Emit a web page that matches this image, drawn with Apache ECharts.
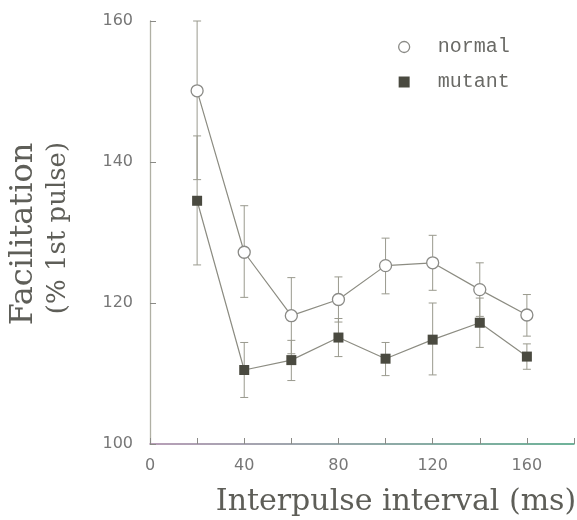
<!DOCTYPE html>
<html>
<head>
<meta charset="utf-8">
<script src="https://cdn.jsdelivr.net/npm/echarts@6/dist/echarts.min.js"></script>
<style>
  html, body { margin: 0; padding: 0; background: #fff; }
  #chart { width: 577px; height: 520px; }
</style>
</head>
<body>
<div id="chart"></div>
<script>
const intervals = [20, 40, 60, 80, 100, 120, 140, 160];
const normalMean = [150.1, 127.2, 118.2, 120.5, 125.3, 125.7, 121.9, 118.3];
const normalLow = [137.5, 120.8, 112.8, 117.3, 121.3, 121.8, 118.1, 115.3];
const normalHigh = [160, 133.8, 123.6, 123.7, 129.2, 129.6, 125.7, 121.2];
const mutantMean = [134.5, 110.5, 111.9, 115.1, 112.1, 114.8, 117.2, 112.4];
const mutantLow = [125.4, 106.6, 109.0, 112.4, 109.7, 109.8, 113.7, 110.6];
const mutantHigh = [143.7, 114.4, 114.7, 117.8, 114.4, 120.0, 120.7, 114.2];
const xTicks = [0, 40, 80, 120, 160];

const chart = echarts.init(document.getElementById("chart"));

const lineColor = "#8c8c82";
const barColor = "#9a9a8e";

function pairs(means) {
  return intervals.map((x, i) => [x, means[i]]);
}

function errorData(lows, highs) {
  return intervals.map((x, i) => [x, lows[i], highs[i]]);
}

function renderError(params, api) {
  const x = api.value(0);
  const lo = api.coord([x, api.value(1)]);
  const hi = api.coord([x, api.value(2)]);
  const w = 4;
  const style = { stroke: barColor, lineWidth: 1 };
  return {
    type: "group",
    children: [
      { type: "line", shape: { x1: lo[0], y1: lo[1], x2: hi[0], y2: hi[1] }, style },
      { type: "line", shape: { x1: lo[0] - w, y1: lo[1], x2: lo[0] + w, y2: lo[1] }, style },
      { type: "line", shape: { x1: hi[0] - w, y1: hi[1], x2: hi[0] + w, y2: hi[1] }, style },
    ],
  };
}

chart.setOption({
  animation: false,
  grid: { left: 150, right: 0, top: 21, bottom: 76 },
  legend: {
    orient: "vertical",
    left: 393,
    top: 32,
    itemGap: 15,
    itemWidth: 11,
    itemHeight: 11,
    textStyle: {
      fontFamily: "Liberation Mono",
      fontSize: 20,
      lineHeight: 20,
      color: "#6a6a66",
      padding: [0, 0, 0, 23],
    },
    data: [
      { name: "normal", icon: "circle", itemStyle: { color: "#fff", borderColor: "#8a8a86", borderWidth: 1.3 } },
      { name: "mutant", icon: "rect", itemStyle: { color: "#4a4a40" } },
    ],
  },
  xAxis: {
    type: "value",
    min: 0,
    max: 180,
    interval: 20,
    axisLine: {
      lineStyle: {
        width: 1.5,
        color: new echarts.graphic.LinearGradient(0, 0, 1, 0, [
          { offset: 0, color: "#a07fa0" },
          { offset: 1, color: "#3f9a78" },
        ]),
      },
    },
    axisTick: { inside: true, length: 6, lineStyle: { color: "#8a8a86" } },
    axisLabel: {
      margin: 14,
      fontFamily: "DejaVu Sans",
      fontSize: 16,
      color: "#777777",
      formatter: (v) => (xTicks.includes(v) ? String(v) : ""),
    },
    splitLine: { show: false },
  },
  yAxis: {
    type: "value",
    min: 100,
    max: 160,
    interval: 20,
    axisLine: { show: true, lineStyle: { color: "#b0b0a4", width: 1.3 } },
    axisTick: { show: true, inside: true, length: 6, lineStyle: { color: "#8a8a86" } },
    axisLabel: { margin: 17, fontFamily: "DejaVu Sans", fontSize: 16, color: "#777777" },
    splitLine: { show: false },
  },
  graphic: [
    {
      type: "text",
      x: 396,
      y: 502,
      style: {
        text: "Interpulse interval (ms)",
        font: "30px 'DejaVu Serif'",
        fill: "#5e5e58",
        align: "center",
        verticalAlign: "middle",
      },
    },
    {
      type: "text",
      x: 24,
      y: 234,
      rotation: Math.PI / 2,
      style: {
        text: "Facilitation",
        font: "32px 'DejaVu Serif'",
        fill: "#5e5e58",
        align: "center",
        verticalAlign: "middle",
      },
    },
    {
      type: "text",
      x: 58,
      y: 228,
      rotation: Math.PI / 2,
      style: {
        text: "(% 1st pulse)",
        font: "26px 'DejaVu Serif'",
        fill: "#5e5e58",
        align: "center",
        verticalAlign: "middle",
      },
    },
  ],
  series: [
    {
      type: "custom",
      name: "normalErr",
      data: errorData(normalLow, normalHigh),
      renderItem: renderError,
      z: 1,
      silent: true,
    },
    {
      type: "custom",
      name: "mutantErr",
      data: errorData(mutantLow, mutantHigh),
      renderItem: renderError,
      z: 1,
      silent: true,
    },
    {
      name: "normal",
      type: "line",
      data: pairs(normalMean),
      symbol: "circle",
      symbolSize: 12,
      lineStyle: { color: lineColor, width: 1.2 },
      itemStyle: { color: "#fff", borderColor: "#8a8a86", borderWidth: 1.3 },
      z: 3,
    },
    {
      name: "mutant",
      type: "line",
      data: pairs(mutantMean),
      symbol: "rect",
      symbolSize: 10,
      lineStyle: { color: lineColor, width: 1.2 },
      itemStyle: { color: "#4a4a40" },
      z: 3,
    },
  ],
});
</script>
</body>
</html>
